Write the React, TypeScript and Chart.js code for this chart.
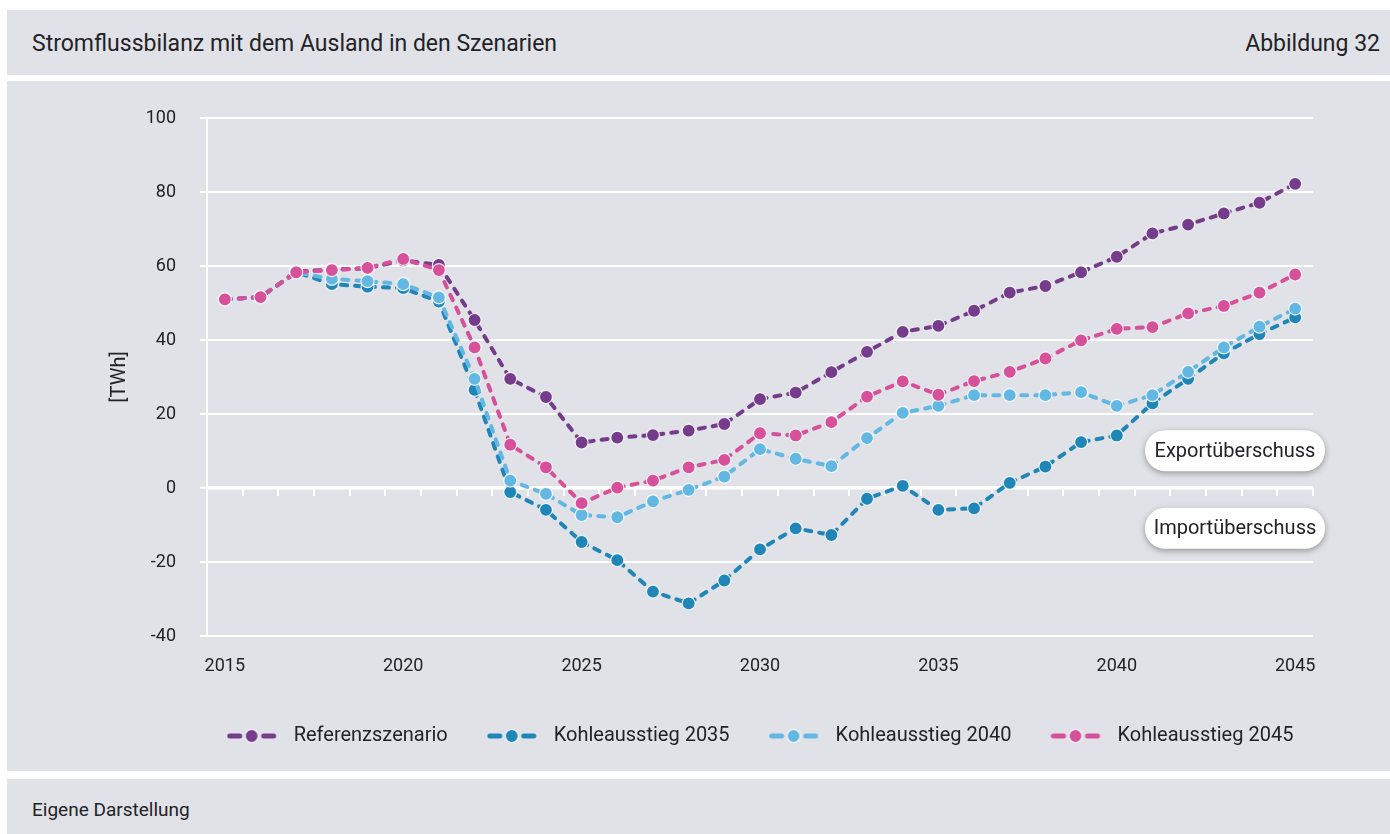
import React, { useEffect, useRef } from "react";
import { Chart, registerables } from "chart.js";

Chart.register(...registerables);

// ---------- data ----------
const years = [
  2015, 2016, 2017, 2018, 2019, 2020, 2021, 2022, 2023, 2024, 2025, 2026, 2027, 2028, 2029, 2030,
  2031, 2032, 2033, 2034, 2035, 2036, 2037, 2038, 2039, 2040, 2041, 2042, 2043, 2044, 2045,
];
const xTickValues = [2015, 2020, 2025, 2030, 2035, 2040, 2045];

const referenzszenario = [
  51.0, 51.6, 58.5, 59.0, 59.4, 61.5, 60.3, 45.4, 29.5, 24.6, 12.3, 13.6, 14.3, 15.5, 17.3, 24.0,
  25.8, 31.3, 36.8, 42.2, 43.8, 47.9, 52.8, 54.6, 58.3, 62.5, 68.8, 71.2, 74.2, 77.1, 82.2,
];
const kohleausstieg2035 = [
  51.0, 51.6, 58.3, 55.1, 54.4, 54.0, 50.4, 26.5, -1.1, -5.9, -14.6, -19.5, -28.0, -31.2, -25.0, -16.6,
  -10.9, -12.7, -2.9, 0.6, -5.9, -5.5, 1.4, 5.8, 12.4, 14.2, 22.9, 29.5, 36.4, 41.6, 46.1,
];
const kohleausstieg2040 = [
  51.0, 51.6, 58.3, 56.5, 55.9, 55.1, 51.5, 29.5, 2.0, -1.6, -7.3, -7.9, -3.6, -0.5, 3.1, 10.5,
  7.9, 5.9, 13.5, 20.3, 22.2, 25.1, 25.1, 25.1, 25.9, 22.2, 25.1, 31.4, 38.0, 43.6, 48.5,
];
const kohleausstieg2045 = [
  51.0, 51.6, 58.3, 58.9, 59.5, 61.9, 58.9, 38.0, 11.7, 5.6, -4.1, 0.1, 2.0, 5.6, 7.6, 14.8,
  14.2, 17.8, 24.7, 28.8, 25.2, 28.9, 31.4, 35.0, 39.9, 43.0, 43.5, 47.2, 49.2, 52.8, 57.7,
];

const seriesNames = ["Referenzszenario", "Kohleausstieg 2035", "Kohleausstieg 2040", "Kohleausstieg 2045"];
const seriesValues = [referenzszenario, kohleausstieg2035, kohleausstieg2040, kohleausstieg2045];
const seriesColors = ["#743c8b", "#1f86b7", "#63b8e3", "#d6509a"];
const seriesOrder = [3, 2, 1, 0]; // drawing order: 2045 on top

const calloutTexts = ["Exportüberschuss", "Importüberschuss"];
const calloutValues = [10.1, -10.9];

const yMin = -40;
const yMax = 100;
const yStep = 20;

// ---------- styles ----------
const BG = "#e1e2e7";
const TEXT = "#222326";
const FONT = "Roboto, 'Noto Sans', sans-serif";

function makeLegendImage(color: string): HTMLCanvasElement {
  const c = document.createElement("canvas");
  c.width = 57;
  c.height = 18;
  const ctx = c.getContext("2d")!;
  ctx.strokeStyle = color;
  ctx.lineWidth = 5;
  ctx.lineCap = "round";
  ctx.beginPath();
  ctx.moveTo(3, 9);
  ctx.lineTo(13, 9);
  ctx.moveTo(37, 9);
  ctx.lineTo(47, 9);
  ctx.stroke();
  ctx.beginPath();
  ctx.arc(25, 9, 6.5, 0, Math.PI * 2);
  ctx.fillStyle = color;
  ctx.fill();
  ctx.lineWidth = 1.2;
  ctx.strokeStyle = "rgba(255,255,255,0.9)";
  ctx.stroke();
  return c;
}

const zeroTicksPlugin = {
  id: "zeroTicks",
  beforeDatasetsDraw(chart: any) {
    const { ctx, scales } = chart;
    const xs = scales.x;
    const ys = scales.y;
    const y0 = ys.getPixelForValue(0);
    ctx.save();
    ctx.strokeStyle = "#ffffff";
    ctx.lineWidth = 2;
    ctx.beginPath();
    years.forEach((yr) => {
      const px = Math.round(xs.getPixelForValue(yr + 0.5));
      ctx.moveTo(px, y0);
      ctx.lineTo(px, y0 + 8);
    });
    ctx.stroke();
    ctx.restore();
  },
};

// centre the legend row on the plot area (as in the reference)
const legendCenterPlugin = {
  id: "legendCenter",
  afterLayout(chart: any) {
    const lg = chart.legend;
    if (!lg) return;
    const ca = chart.chartArea;
    const shift = (ca.left + ca.right) / 2 - (lg.left + lg.right) / 2;
    lg.left += shift;
    lg.right += shift;
  },
};

const calloutPlugin = {
  id: "callouts",
  afterDraw(chart: any) {
    const { ctx, chartArea, scales } = chart;
    const ys = scales.y;
    calloutTexts.forEach((text, i) => {
      const cy = ys.getPixelForValue(calloutValues[i]);
      const w = 180;
      const h = 41;
      const right = chartArea.right + 12;
      const left = right - w;
      ctx.save();
      ctx.shadowColor = "rgba(0,0,0,0.35)";
      ctx.shadowBlur = 6;
      ctx.shadowOffsetY = 2;
      ctx.fillStyle = "#ffffff";
      ctx.beginPath();
      ctx.roundRect(left, cy - h / 2, w, h, 20);
      ctx.fill();
      ctx.restore();
      ctx.save();
      ctx.fillStyle = TEXT;
      ctx.font = `20px ${FONT}`;
      ctx.textAlign = "center";
      ctx.textBaseline = "middle";
      ctx.fillText(text, left + w / 2, cy + 1);
      ctx.restore();
    });
  },
};

export default function App() {
  const ref = useRef<HTMLCanvasElement>(null);

  useEffect(() => {
    document.body.style.margin = "0";
    const canvas = ref.current;
    if (!canvas) return;
    const legendImages = seriesColors.map((c) => makeLegendImage(c));

    const datasets = seriesNames.map((name, i) => ({
      label: name,
      data: years.map((yr, j) => ({ x: yr, y: seriesValues[i][j] })),
      borderColor: seriesColors[i],
      backgroundColor: seriesColors[i],
      borderWidth: 4,
      borderDash: [6, 8],
      borderCapStyle: "round" as const,
      borderJoinStyle: "round" as const,
      pointRadius: 6.5,
      pointHoverRadius: 6.5,
      pointBackgroundColor: seriesColors[i],
      pointBorderColor: "rgba(255,255,255,0.85)",
      pointBorderWidth: 1.2,
      tension: 0,
      order: seriesOrder[i],
    }));

    const chart = new Chart(canvas, {
      type: "line",
      data: { datasets },
      plugins: [zeroTicksPlugin, legendCenterPlugin, calloutPlugin],
      options: {
        responsive: false,
        animation: false,
        devicePixelRatio: 1,
        layout: { padding: { left: 0, right: 77, top: 37, bottom: 15 } },
        font: { family: FONT },
        scales: {
          x: {
            type: "linear",
            min: years[0] - 0.5,
            max: years[years.length - 1] + 0.5,
            afterBuildTicks: (s: any) => {
              s.ticks = xTickValues.map((v) => ({ value: v }));
            },
            afterFit: (s: any) => {
              s.height = 51;
            },
            grid: { display: false, drawTicks: false },
            border: { display: false },
            ticks: {
              padding: 20,
              color: TEXT,
              font: { family: FONT, size: 18 },
              maxRotation: 0,
              autoSkip: false,
              callback: (v: any) => String(v),
            },
          },
          y: {
            min: yMin,
            max: yMax,
            afterFit: (s: any) => {
              s.width = 200;
            },
            ticks: {
              stepSize: yStep,
              padding: 24,
              color: TEXT,
              font: { family: FONT, size: 18 },
              callback: (v: any) => String(v),
            },
            grid: {
              color: "#ffffff",
              lineWidth: (c: any) => (c.tick && c.tick.value === 0 ? 3.5 : 2),
              drawTicks: true,
              tickLength: 7,
              tickColor: "#ffffff",
              tickWidth: 2,
            },
            border: { display: true, color: "#ffffff", width: 2 },
            title: {
              display: true,
              text: "[TWh]",
              color: TEXT,
              font: { family: FONT, size: 20 },
              padding: { top: 101, bottom: 0 },
            },
          },
        },
        plugins: {
          tooltip: { enabled: false },
          legend: {
            position: "bottom",
            fullSize: true,
            labels: {
              usePointStyle: true,
              pointStyleWidth: 57,
              padding: 39,
              color: TEXT,
              font: { family: FONT, size: 20 },
              sort: (a: any, b: any) => a.datasetIndex - b.datasetIndex,
              generateLabels: (ch: any) => {
                const items = (Chart.defaults.plugins.legend.labels as any).generateLabels(ch);
                items.forEach((it: any) => {
                  it.pointStyle = legendImages[it.datasetIndex];
                });
                return items;
              },
            },
          },
        },
      } as any,
    });
    return () => chart.destroy();
  }, []);

  return (
    <div
      style={{
        position: "relative",
        width: 1390,
        height: 834,
        background: "#ffffff",
        fontFamily: FONT,
        overflow: "hidden",
        color: TEXT,
      }}
    >
      <div style={{ position: "absolute", left: 7, top: 10, width: 1383, height: 65, background: BG }}>
        <div style={{ position: "absolute", left: 25, top: 0, lineHeight: "68px", fontSize: 23 }}>
          Stromflussbilanz mit dem Ausland in den Szenarien
        </div>
        <div style={{ position: "absolute", right: 10, top: 0, lineHeight: "68px", fontSize: 23 }}>
          Abbildung 32
        </div>
      </div>
      <div style={{ position: "absolute", left: 7, top: 81, width: 1383, height: 690, background: BG }}>
        <canvas ref={ref} width={1383} height={690} style={{ display: "block", width: 1383, height: 690 }} />
      </div>
      <div style={{ position: "absolute", left: 7, top: 779, width: 1383, height: 60, background: BG }}>
        <div style={{ position: "absolute", left: 25, top: 0, lineHeight: "62px", fontSize: 19 }}>
          Eigene Darstellung
        </div>
      </div>
    </div>
  );
}
